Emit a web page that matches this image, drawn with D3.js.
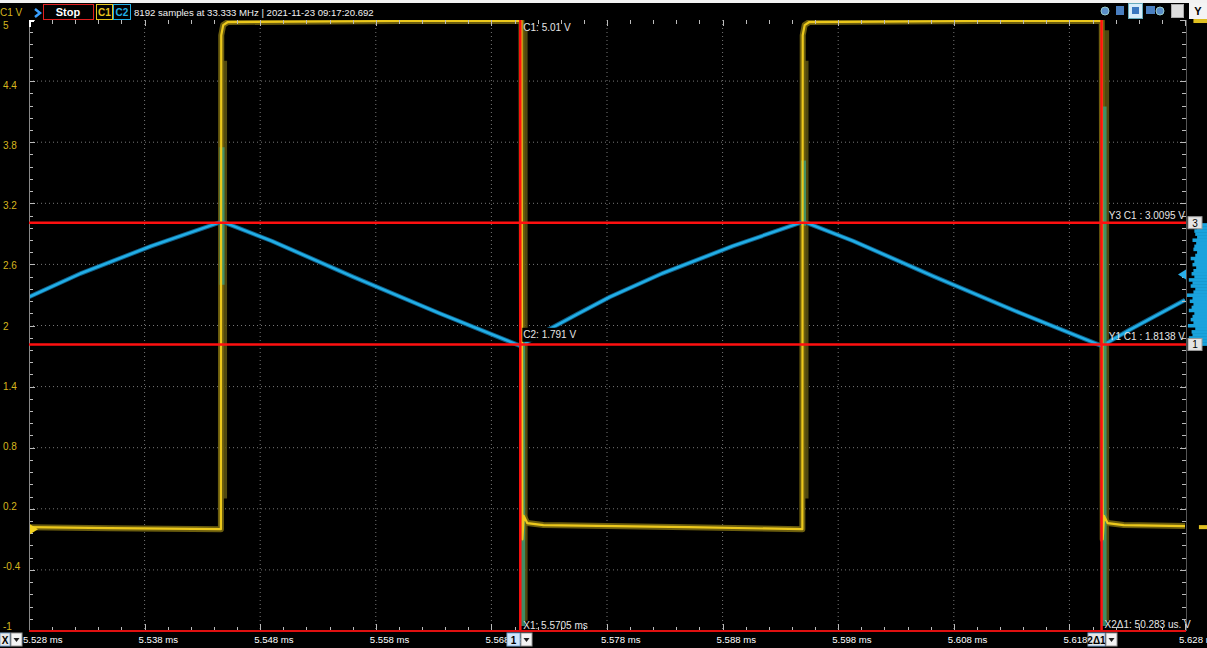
<!DOCTYPE html>
<html>
<head>
<meta charset="utf-8">
<script src="https://cdn.jsdelivr.net/npm/d3@7"></script>
<style>
  body { margin: 0; background: #000; overflow: hidden; }
  svg { display: block; font-family: "Liberation Sans", Arial, sans-serif; }
</style>
</head>
<body>
<script>
// time in ms, voltage in V
const xTicks = [5.528, 5.538, 5.548, 5.558, 5.568, 5.578, 5.588, 5.598, 5.608, 5.618, 5.628]
const yTicks = [5, 4.4, 3.8, 3.2, 2.6, 2, 1.4, 0.8, 0.2, -0.4, -1]

// C1 (yellow) square wave
const c1Time = [5.5280, 5.5350, 5.5446, 5.54463, 5.5448, 5.5452, 5.5600, 5.5706, 5.57068, 5.5708, 5.5711, 5.5725, 5.5850,
  5.5949, 5.59493, 5.5951, 5.5955, 5.6100, 5.6208, 5.62088, 5.6210, 5.6213, 5.6227, 5.6280]
const c1Volt = [0.02, 0.01, 0.00, 4.85, 4.95, 4.98, 4.99, 4.99, -0.10, 0.13, 0.06, 0.04, 0.02,
  0.00, 4.85, 4.95, 4.98, 4.99, 4.99, -0.10, 0.13, 0.06, 0.04, 0.03]

// C2 (blue) triangle, charging parts slightly curved
const c2Time = [5.5280, 5.53245, 5.53858, 5.5447, 5.5490, 5.5560, 5.5635, 5.5705,
  5.57295, 5.5754, 5.57824, 5.58275, 5.58888, 5.5950,
  5.5993, 5.6063, 5.6138, 5.6208, 5.62325, 5.6257, 5.6280]
const c2Volt = [2.28, 2.51, 2.78, 3.02, 2.83, 2.48, 2.12, 1.80,
  1.96, 2.11, 2.28, 2.51, 2.78, 3.02,
  2.83, 2.48, 2.12, 1.80, 1.96, 2.11, 2.25]

// edge artefacts: C2 glitches and C1 persistence bands
const c2SpikeTime = [5.5447, 5.5707, 5.5950, 5.6210]
const c2SpikeHigh = [3.75, 1.95, 3.62, 4.15]
const c2SpikeLow = [2.40, -0.95, 2.98, -0.95]
const c1BandTime = [5.5447, 5.5707, 5.5950, 5.6210]
const c1BandLow = [0.3, -0.9, 0.3, -0.9]
const c1BandHigh = [4.6, 4.9, 4.6, 4.9]

const cursorTime = [5.5705, 5.620783]
const cursorVolt = [3.0095, 1.8138]

// histogram strip on the right
const c2HistVolt = [1.82, 1.85, 1.88, 1.91, 1.94, 1.97, 2.00, 2.03, 2.06, 2.09, 2.12, 2.15, 2.18, 2.21, 2.24, 2.27,
  2.30, 2.33, 2.36, 2.39, 2.42, 2.45, 2.48, 2.51, 2.54, 2.57, 2.60, 2.63, 2.66, 2.69, 2.72, 2.75, 2.78, 2.81,
  2.84, 2.87, 2.90, 2.93, 2.96, 2.99]
const c2HistCount = [20, 16, 22, 18, 19, 15, 23, 17, 20, 18, 16, 22, 19, 17, 21, 18, 24, 17, 15, 20,
  18, 22, 16, 19, 17, 14, 18, 16, 20, 15, 13, 17, 16, 14, 18, 13, 15, 16, 13, 15]
const c1HistVolt = [4.99, 0.02]
const c1HistCount = [17, 11]

const width = 1207
const height = 648
const plotLeft = 29, plotRight = 1186, plotTop = 20, plotBottom = 631

const svg = d3.select('body')
  .append('svg')
  .attr('width', width)
  .attr('height', height)

svg.append('rect').attr('width', width).attr('height', height).attr('fill', '#000')
svg.append('rect').attr('width', width).attr('height', 3).attr('fill', '#f2f2f2')

const x = d3.scaleLinear().domain([5.528, 5.628]).range([plotLeft, plotRight - 1])
const y = d3.scaleLinear().domain([-1, 5]).range([plotBottom, plotTop])
const yLabel = d3.scaleLinear().domain([-1, 5]).range([626, 25])

svg.append('defs').append('clipPath').attr('id', 'plotClip')
  .append('rect').attr('x', plotLeft).attr('y', plotTop)
  .attr('width', plotRight - plotLeft).attr('height', plotBottom - plotTop)

const plot = svg.append('g').attr('clip-path', 'url(#plotClip)')

// dotted grid
plot.append('g')
  .selectAll('line')
  .data(xTicks.slice(1, -1))
  .enter()
  .append('line')
  .attr('x1', d => x(d)).attr('x2', d => x(d))
  .attr('y1', plotTop).attr('y2', plotBottom)
  .attr('stroke', '#777').attr('stroke-dasharray', '1,3')

plot.append('g')
  .selectAll('line')
  .data(yTicks.slice(1, -1))
  .enter()
  .append('line')
  .attr('x1', plotLeft).attr('x2', plotRight)
  .attr('y1', d => y(d)).attr('y2', d => y(d))
  .attr('stroke', '#777').attr('stroke-dasharray', '1,3')

// small ticks around the frame
const minorX = x.ticks(50)
const minorY = d3.range(0, 51).map(i => -1 + i * 0.12)
const tickG = svg.append('g').attr('stroke', '#bbb').attr('stroke-width', 1)
tickG.selectAll('.tt').data(minorX).enter().append('line')
  .attr('x1', d => Math.round(x(d)) + 0.5).attr('x2', d => Math.round(x(d)) + 0.5)
  .attr('y1', plotTop).attr('y2', (d, i) => plotTop + (i % 5 === 0 ? 6 : 4))
tickG.selectAll('.tb').data(minorX).enter().append('line')
  .attr('x1', d => Math.round(x(d)) + 0.5).attr('x2', d => Math.round(x(d)) + 0.5)
  .attr('y1', plotBottom).attr('y2', (d, i) => plotBottom - (i % 5 === 0 ? 7 : 4))
tickG.selectAll('.tl').data(minorY).enter().append('line')
  .attr('x1', plotLeft).attr('x2', (d, i) => plotLeft + (i % 5 === 0 ? 6 : 4))
  .attr('y1', d => Math.round(y(d)) + 0.5).attr('y2', d => Math.round(y(d)) + 0.5)
tickG.selectAll('.tr').data(minorY).enter().append('line')
  .attr('x1', plotRight).attr('x2', (d, i) => plotRight - (i % 5 === 0 ? 6 : 4))
  .attr('y1', d => Math.round(y(d)) + 0.5).attr('y2', d => Math.round(y(d)) + 0.5)

svg.append('line').attr('x1', plotLeft + 0.5).attr('x2', plotLeft + 0.5).attr('y1', plotTop).attr('y2', plotBottom)
  .attr('stroke', '#888')
svg.append('line').attr('x1', plotRight + 0.5).attr('x2', plotRight + 0.5).attr('y1', plotTop).attr('y2', plotBottom)
  .attr('stroke', '#555')
svg.append('path').attr('d', `M${plotLeft + 1},${plotTop + 7}V${plotTop + 1}H${plotLeft + 5}`)
  .attr('stroke', '#fff').attr('stroke-width', 2).attr('fill', 'none')

const line = d3.line().x(d => x(d.t)).y(d => y(d.v))
const c1 = c1Time.map((t, i) => ({ t, v: c1Volt[i] }))
const c2 = c2Time.map((t, i) => ({ t, v: c2Volt[i] }))

// C1 persistence
plot.append('g').selectAll('line').data(c1BandTime).enter().append('line')
  .attr('x1', d => x(d) + 1).attr('x2', d => x(d) + 1)
  .attr('y1', (d, i) => y(c1BandHigh[i])).attr('y2', (d, i) => y(c1BandLow[i]))
  .attr('stroke', '#5e5512').attr('stroke-width', 8).attr('opacity', 0.85)
plot.append('path').datum(c1).attr('d', line)
  .attr('fill', 'none').attr('stroke', '#6b5d0e').attr('stroke-width', 6).attr('stroke-linejoin', 'round')

// C2
plot.append('path').datum(c2).attr('d', line)
  .attr('fill', 'none').attr('stroke', '#0e5f88').attr('stroke-width', 4.5).attr('stroke-linejoin', 'round')
plot.append('path').datum(c2).attr('d', line)
  .attr('fill', 'none').attr('stroke', '#22aee6').attr('stroke-width', 2.6).attr('stroke-linejoin', 'round')

plot.append('g').selectAll('line').data(c2SpikeTime).enter().append('line')
  .attr('x1', d => x(d)).attr('x2', d => x(d))
  .attr('y1', (d, i) => y(c2SpikeHigh[i])).attr('y2', (d, i) => y(c2SpikeLow[i]))
  .attr('stroke', '#3f9a72').attr('stroke-width', 5).attr('opacity', 0.85)

// C1 core
plot.append('path').datum(c1).attr('d', line)
  .attr('fill', 'none').attr('stroke', '#ecc81c').attr('stroke-width', 2.2).attr('stroke-linejoin', 'round')

// cursors
svg.append('g').selectAll('line').data(cursorTime).enter().append('line')
  .attr('x1', d => x(d)).attr('x2', d => x(d)).attr('y1', plotTop).attr('y2', plotBottom)
  .attr('stroke', '#ff1010').attr('stroke-width', 2.5)
svg.append('g').selectAll('line').data(cursorVolt).enter().append('line')
  .attr('x1', plotLeft).attr('x2', plotRight).attr('y1', d => y(d)).attr('y2', d => y(d))
  .attr('stroke', '#ff1010').attr('stroke-width', 2.5)
svg.append('line').attr('x1', plotLeft).attr('x2', plotRight).attr('y1', plotBottom).attr('y2', plotBottom)
  .attr('stroke', '#e01010').attr('stroke-width', 2)

// histogram strip
const hx = d3.scaleLinear().domain([0, 24]).range([1209, 1187])
svg.append('g').selectAll('rect').data(c2HistVolt).enter().append('rect')
  .attr('x', (d, i) => hx(c2HistCount[i]))
  .attr('y', d => y(d + 0.015))
  .attr('width', (d, i) => 1209 - hx(c2HistCount[i]))
  .attr('height', y(0) - y(0.03) + 0.5)
  .attr('fill', '#1aa3dd')
svg.append('g').selectAll('rect').data(c1HistVolt).enter().append('rect')
  .attr('x', (d, i) => hx(c1HistCount[i]))
  .attr('y', d => y(d) - 2)
  .attr('width', (d, i) => 1209 - hx(c1HistCount[i]))
  .attr('height', 4)
  .attr('fill', '#e0c020')

// channel markers
svg.append('path').attr('d', `M${plotLeft + 1},${y(0) - 5}L${plotLeft + 9},${y(0)}L${plotLeft + 1},${y(0) + 5}Z`).attr('fill', '#f2d21e')
svg.append('path').attr('d', `M${plotRight},${y(2.5) - 5}L${plotRight - 8},${y(2.5)}L${plotRight},${y(2.5) + 5}Z`).attr('fill', '#2ab0ea')

const markerBox = (label, v) => {
  svg.append('rect').attr('x', 1188).attr('y', y(v) - 6).attr('width', 14).attr('height', 12)
    .attr('fill', '#e4e4e4').attr('stroke', '#999')
  svg.append('text').attr('x', 1195).attr('y', y(v) + 4).attr('text-anchor', 'middle')
    .attr('font-size', 10).attr('fill', '#000').text(label)
}
markerBox('3', cursorVolt[0])
markerBox('1', cursorVolt[1])

// y labels
svg.append('g').selectAll('text').data(yTicks).enter().append('text')
  .attr('x', 3).attr('y', d => yLabel(d) + 4)
  .attr('font-size', 10).attr('fill', '#d6b61e')
  .text(d => d)

// x labels
svg.append('g').selectAll('text').data(xTicks).enter().append('text')
  .attr('x', d => x(d) - 6).attr('y', 643)
  .attr('font-size', 9.6).attr('fill', '#fff')
  .text(d => d3.format('.3f')(d) + ' ms')

// cursor readouts
const readout = (txt, xp, yp, anchor, bg) => {
  const t = svg.append('text').attr('x', xp).attr('y', yp).attr('text-anchor', anchor)
    .attr('font-size', 10).attr('fill', '#e6e6e6').text(txt)
  if (bg) {
    const b = t.node().getBBox()
    svg.insert('rect', () => t.node()).attr('x', b.x - 1).attr('y', b.y - 1)
      .attr('width', b.width + 2).attr('height', b.height + 3).attr('fill', '#000')
  }
}
readout('C1: 5.01 V', x(cursorTime[0]) + 3, plotTop + 11, 'start', false)
readout('C2: 1.791 V', x(cursorTime[0]) + 3, y(1.791) - 9, 'start', true)
readout('Y3 C1 : 3.0095 V', plotRight - 1, y(cursorVolt[0]) - 4, 'end', false)
readout('Y1 C1 : 1.8138 V', plotRight - 1, y(cursorVolt[1]) - 4, 'end', false)
readout('X1: 5.5705 ms', x(cursorTime[0]) + 3, plotBottom - 2, 'start', false)
readout('X2\u03941: 50.283 us. V', x(cursorTime[1]) + 3, plotBottom - 3, 'start', false)

// bottom boxes
const dropBox = (bx, label, w, fill) => {
  svg.append('rect').attr('x', bx).attr('y', 633).attr('width', w).attr('height', 13)
    .attr('fill', fill).attr('stroke', '#7aa7d6')
  svg.append('text').attr('x', bx + w / 2).attr('y', 643.5).attr('text-anchor', 'middle')
    .attr('font-size', 10).attr('font-weight', 'bold').attr('fill', '#000').text(label)
  svg.append('rect').attr('x', bx + w + 1).attr('y', 633).attr('width', 11).attr('height', 13)
    .attr('fill', '#f4f4f4').attr('stroke', '#999')
  svg.append('path').attr('d', `M${bx + w + 3.5},${638}h6l-3,4z`).attr('fill', '#222')
}
dropBox(0, 'X', 10, '#e8e8e8')
dropBox(507, '1', 13, '#cfe5fa')
dropBox(1088, '2\u03941', 17, '#e6e6e6')

// header
svg.append('text').attr('x', 0).attr('y', 16).attr('font-size', 10).attr('fill', '#d6b61e').text('C1 V')
svg.append('path').attr('d', 'M35,9l5,4l-5,4').attr('stroke', '#3aa0ff').attr('stroke-width', 2.5).attr('fill', 'none')
svg.append('rect').attr('x', 43.5).attr('y', 4.5).attr('width', 50).attr('height', 15)
  .attr('fill', '#000').attr('stroke', '#e02020')
svg.append('text').attr('x', 68).attr('y', 16).attr('text-anchor', 'middle')
  .attr('font-size', 11).attr('font-weight', 'bold').attr('fill', '#fff').text('Stop')
svg.append('rect').attr('x', 96.5).attr('y', 4.5).attr('width', 16).attr('height', 15)
  .attr('fill', '#000').attr('stroke', '#e6c21c')
svg.append('text').attr('x', 104.5).attr('y', 16).attr('text-anchor', 'middle')
  .attr('font-size', 10).attr('font-weight', 'bold').attr('fill', '#e6c21c').text('C1')
svg.append('rect').attr('x', 113.5).attr('y', 4.5).attr('width', 17).attr('height', 15)
  .attr('fill', '#000').attr('stroke', '#22aee6')
svg.append('text').attr('x', 122).attr('y', 16).attr('text-anchor', 'middle')
  .attr('font-size', 10).attr('font-weight', 'bold').attr('fill', '#22aee6').text('C2')
svg.append('text').attr('x', 134).attr('y', 16).attr('font-size', 9.6).attr('fill', '#f0f0f0')
  .text('8192 samples at 33.333 MHz | 2021-11-23 09:17:20.692')

// toolbar icons top right
const icons = svg.append('g')
icons.append('circle').attr('cx', 1105).attr('cy', 11).attr('r', 4).attr('fill', '#5a8ec8').attr('stroke', '#9cc')
icons.append('rect').attr('x', 1116).attr('y', 6).attr('width', 8).attr('height', 9).attr('fill', '#4a7fc0')
icons.append('rect').attr('x', 1128.5).attr('y', 3.5).attr('width', 14).attr('height', 15).attr('fill', '#d6ecfa').attr('stroke', '#6ab')
icons.append('rect').attr('x', 1132).attr('y', 7).attr('width', 7).attr('height', 7).attr('fill', '#3b78c0')
icons.append('rect').attr('x', 1146).attr('y', 6).attr('width', 9).attr('height', 8).attr('fill', '#4a7fc0')
icons.append('circle').attr('cx', 1160).attr('cy', 11).attr('r', 4).attr('fill', '#5a8ec8').attr('stroke', '#9cc')
icons.append('rect').attr('x', 1171.5).attr('y', 4.5).attr('width', 12).attr('height', 13).attr('fill', '#ddd').attr('stroke', '#aaa')
icons.append('rect').attr('x', 1189).attr('y', 3).attr('width', 18).attr('height', 16).attr('fill', '#f4f4f4')
icons.append('text').attr('x', 1198).attr('y', 15).attr('text-anchor', 'middle').attr('font-size', 11)
  .attr('font-weight', 'bold').attr('fill', '#000').text('Y')
</script>
</body>
</html>
